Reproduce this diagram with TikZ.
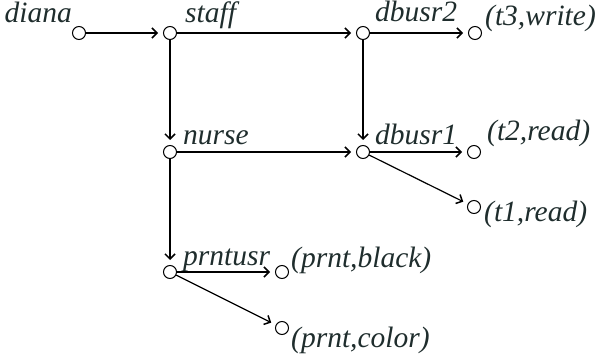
\documentclass[tikz,border=0pt]{standalone}
\usepackage{fontspec}
\setmainfont{Liberation Serif}
\usetikzlibrary{arrows.meta}
\definecolor{txtgray}{HTML}{1F2D2D}

\begin{document}
\begin{tikzpicture}[x=1pt,y=-1pt,
		vtx/.style={circle,draw,line width=1pt,minimum size=13pt,inner sep=0pt},
		lbl/.style={inner sep=0pt,text=txtgray,font=\fontsize{29.5}{31}\selectfont\itshape},
		edge/.style={line width=1.2pt,shorten >=5pt,-{Straight Barb[length=5pt,width=10pt,line width=1.5pt]}}]
	\useasboundingbox (0,0) rectangle (598,361);
	
	% Vertices
	\node[vtx] (diana) at (79, 33) {};
	\node[vtx] (staff) at (170, 33) {};
	\node[vtx] (dbusr2) at (363, 33) {};
	\node[vtx] (t3write) at (475, 33) {};
	
	\node[vtx] (nurse) at (170, 152) {};
	\node[vtx] (dbusr1) at (363, 152) {};
	\node[vtx] (t2read) at (474, 152) {};
	\node[vtx] (t1read) at (474, 207) {};
	
	\node[vtx] (prntusr) at (170, 272) {};
	\node[vtx] (prntblack) at (282, 272) {};
	\node[vtx] (prntcolor) at (282, 328) {};
	
	% Labels
	\node[lbl, anchor=base east] (diana-l) at (72, 23) {diana};
	\node[lbl, anchor=base west] (staff-l) at (185, 23) {staff};
	\node[lbl, anchor=base west] (dbusr2-l) at (375, 22) {dbusr2};
	\node[lbl, anchor=base west] (t3write-l) at (485, 26) {(t3,write)};
	\node[lbl, anchor=base west] (nurse-l) at (183, 145) {nurse};
	\node[lbl, anchor=base west] (dbusr1-l) at (375, 145) {dbusr1};
	\node[lbl, anchor=base west] (t2read-l) at (487, 140) {(t2,read)};
	\node[lbl, anchor=base west] (t1read-l) at (484, 222) {(t1,read)};
	\node[lbl, anchor=base west] (prntusr-l) at (183, 265) {prntusr};
	\node[lbl, anchor=base west] (prntblack-l) at (291, 267) {(prnt,black)};
	\node[lbl, anchor=base west] (prntcolor-l) at (291, 347) {(prnt,color)};
	
	% Edges
	\draw[edge] (diana) -- (staff);
	\draw[edge] (staff) -- (dbusr2);
	\draw[edge] (staff) -- (nurse);
	\draw[edge] (dbusr2) -- (t3write);
	\draw[edge] (dbusr2) -- (dbusr1);
	\draw[edge] (nurse) -- (dbusr1);
	\draw[edge] (nurse) -- (prntusr);
	\draw[edge] (dbusr1) -- (t2read);
	\draw[edge] (dbusr1) -- (t1read);
	\draw[edge] (prntusr) -- (prntblack);
	\draw[edge] (prntusr) -- (prntcolor);
\end{tikzpicture}
\end{document}
